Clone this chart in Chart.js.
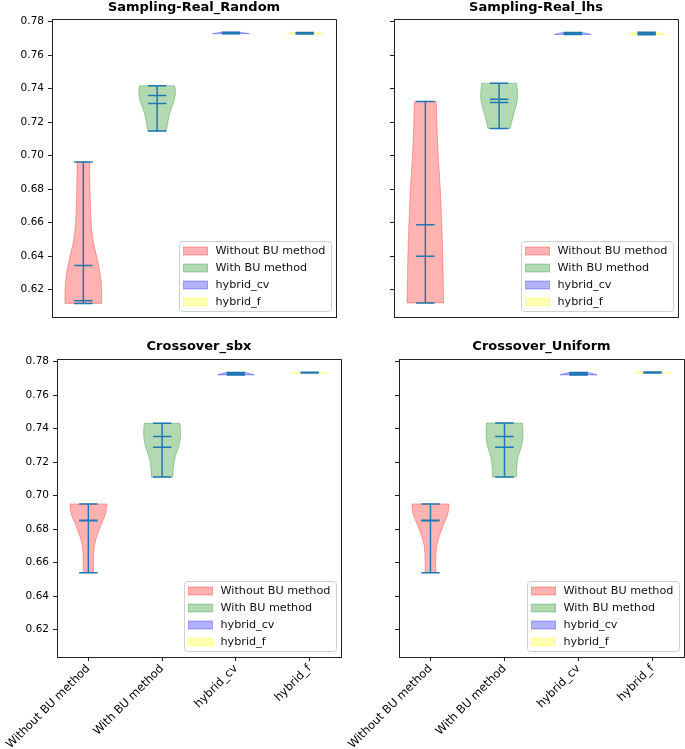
<!DOCTYPE html>
<html><head><meta charset="utf-8">
<script src="https://cdn.jsdelivr.net/npm/chart.js@4.4.0/dist/chart.umd.min.js"></script>
<style>
html,body{margin:0;padding:0;background:#fff;}
body{width:685px;height:749px;position:relative;overflow:hidden;}
canvas{position:absolute;}
</style></head><body>
<canvas id="c0" width="345" height="330" style="left:0px;top:0px"></canvas>
<canvas id="c1" width="340" height="330" style="left:345px;top:0px"></canvas>
<canvas id="c2" width="345" height="419" style="left:0px;top:330px"></canvas>
<canvas id="c3" width="350" height="419" style="left:335px;top:330px"></canvas>
<script>
// ---------- data ----------
const categories = ['Without BU method', 'With BU method', 'hybrid_cv', 'hybrid_f'];
const panelTitles = ['Sampling-Real_Random', 'Sampling-Real_lhs', 'Crossover_sbx', 'Crossover_Uniform'];
const yTicks = [0.62, 0.64, 0.66, 0.68, 0.70, 0.72, 0.74, 0.76, 0.78];
const bodyColors = ['rgba(255,0,0,0.3)', 'rgba(0,128,0,0.3)', 'rgba(0,0,255,0.3)', 'rgba(255,255,0,0.3)'];

// violin outlines: [value, relative half-width]
const randomWithout = [[0.6118,1.0],[0.618,1.0],[0.625,0.97],[0.632,0.88],[0.640,0.72],[0.648,0.55],[0.656,0.45],[0.665,0.40],[0.675,0.37],[0.685,0.35],[0.6962,0.34]];
const randomWith = [[0.7148,0.50],[0.7175,0.55],[0.7210,0.60],[0.7250,0.68],[0.7290,0.80],[0.7330,0.93],[0.7370,1.0],[0.7400,0.98],[0.7417,0.95]];
const randomCv = [[0.7728,1.0],[0.7732,0.8],[0.7737,0.5]];
const randomF = [[0.7727,1.0],[0.7731,0.85],[0.7736,0.6]];
// [min, max, mean, median]
const randomStats = [[0.6118,0.6962,0.6345,0.6134],[0.7148,0.7417,0.7311,0.7359],[0.7728,0.7737,0.7733,0.7734],[0.7727,0.7736,0.7731,0.7732]];

const lhsWithout = [[0.6121,1.0],[0.620,0.98],[0.640,0.95],[0.660,0.89],[0.680,0.81],[0.700,0.70],[0.715,0.64],[0.7324,0.59]];
const lhsWith = [[0.7162,0.60],[0.720,0.68],[0.725,0.80],[0.730,0.93],[0.734,1.0],[0.738,1.0],[0.741,0.97],[0.7433,0.94]];
const lhsCv = [[0.7724,1.0],[0.7730,0.8],[0.7736,0.5]];
const lhsF = [[0.7722,1.0],[0.7730,0.85],[0.7737,0.6]];
const lhsStats = [[0.6121,0.7324,0.6588,0.6399],[0.7162,0.7433,0.7337,0.7317],[0.7724,0.7736,0.7730,0.7731],[0.7722,0.7737,0.7730,0.7731]];

const sbxWithout = [[0.6540,0.27],[0.660,0.28],[0.665,0.29],[0.6695,0.32],[0.6725,0.38],[0.6755,0.45],[0.6795,0.59],[0.6835,0.72],[0.6865,0.85],[0.6895,0.94],[0.6925,0.99],[0.6951,1.0]];
const sbxWith = [[0.7111,0.58],[0.7155,0.60],[0.7215,0.67],[0.7245,0.75],[0.7275,0.85],[0.7315,0.95],[0.7354,1.0],[0.7394,1.0],[0.7432,0.97]];
const sbxCv = [[0.7721,1.0],[0.7728,0.8],[0.7736,0.5]];
const sbxF = [[0.7732,1.0],[0.7734,0.85],[0.7737,0.6]];
const sbxStats = [[0.6540,0.6951,0.6853,0.6850],[0.7111,0.7432,0.7289,0.7353],[0.7721,0.7736,0.7728,0.7729],[0.7732,0.7737,0.7734,0.7735]];

const uniformWithout = [[0.6540,0.29],[0.660,0.29],[0.665,0.30],[0.6695,0.33],[0.6725,0.39],[0.6755,0.47],[0.6795,0.60],[0.6835,0.74],[0.6865,0.86],[0.6895,0.95],[0.6925,0.99],[0.6951,1.0]];
const uniformWith = [[0.7111,0.65],[0.7155,0.66],[0.7215,0.70],[0.7245,0.77],[0.7275,0.87],[0.7315,0.96],[0.7354,1.0],[0.7394,1.0],[0.7434,0.97]];
const uniformCv = [[0.7721,1.0],[0.7728,0.8],[0.7736,0.5]];
const uniformF = [[0.7733,1.0],[0.7735,0.85],[0.7738,0.6]];
const uniformStats = [[0.6540,0.6951,0.6853,0.6850],[0.7111,0.7434,0.7289,0.7353],[0.7721,0.7736,0.7728,0.7729],[0.7733,0.7738,0.7735,0.7736]];

const panelProfiles = [
  [randomWithout, randomWith, randomCv, randomF],
  [lhsWithout, lhsWith, lhsCv, lhsF],
  [sbxWithout, sbxWith, sbxCv, sbxF],
  [uniformWithout, uniformWith, uniformCv, uniformF]
];
const panelStats = [randomStats, lhsStats, sbxStats, uniformStats];

// ---------- drawing ----------
const Y_MIN = 0.6037, Y_MAX = 0.7816;
const X_MIN = 0.575, X_MAX = 4.425;
const HALF = 0.25, CAP = 0.125;
const FONT = 'DejaVu Sans';
const STAT = '#1f77b4';

const violinPlugin = {
  id: 'violins',
  afterDatasetsDraw(chart, args, opts) {
    const ctx = chart.ctx, a = chart.chartArea;
    const x = chart.scales.x, y = chart.scales.y;
    const profiles = panelProfiles[opts.panel], stats = panelStats[opts.panel];
    ctx.save();
    profiles.forEach((prof, i) => {
      const pos = i + 1;
      ctx.beginPath();
      prof.forEach(([v, w], k) => {
        const px = x.getPixelForValue(pos - HALF * w), py = y.getPixelForValue(v);
        if (k === 0) ctx.moveTo(px, py); else ctx.lineTo(px, py);
      });
      for (let k = prof.length - 1; k >= 0; k--) {
        const [v, w] = prof[k];
        ctx.lineTo(x.getPixelForValue(pos + HALF * w), y.getPixelForValue(v));
      }
      ctx.closePath();
      ctx.fillStyle = bodyColors[i];
      ctx.fill();
      ctx.strokeStyle = bodyColors[i];
      ctx.lineWidth = 1;
      ctx.stroke();
    });
    ctx.strokeStyle = STAT;
    ctx.lineWidth = 1.5;
    stats.forEach((s, i) => {
      const pos = i + 1;
      const xl = x.getPixelForValue(pos - CAP), xr = x.getPixelForValue(pos + CAP), xc = x.getPixelForValue(pos);
      ctx.beginPath();
      ctx.moveTo(xc, y.getPixelForValue(s[0]));
      ctx.lineTo(xc, y.getPixelForValue(s[1]));
      s.forEach(v => {
        const py = y.getPixelForValue(v);
        ctx.moveTo(xl, py); ctx.lineTo(xr, py);
      });
      ctx.stroke();
    });
    // top/right spines
    ctx.strokeStyle = '#222';
    ctx.lineWidth = 1;
    ctx.beginPath();
    ctx.moveTo(Math.round(a.left) + 0.5, Math.round(a.top) + 0.5);
    ctx.lineTo(Math.round(a.right) + 0.5, Math.round(a.top) + 0.5);
    ctx.lineTo(Math.round(a.right) + 0.5, Math.round(a.bottom) + 0.5);
    ctx.stroke();
    // legend
    const lw = 152, lh = 70;
    const bx = Math.round(a.right - 5 - lw) + 0.5, by = Math.round(a.bottom - 6 - lh) + 0.5;
    ctx.beginPath();
    ctx.roundRect(bx, by, lw, lh, 3);
    ctx.fillStyle = 'rgba(255,255,255,0.8)';
    ctx.fill();
    ctx.strokeStyle = '#d0d0d0';
    ctx.stroke();
    ctx.font = '11.2px "' + FONT + '"';
    ctx.textBaseline = 'middle';
    ctx.textAlign = 'left';
    categories.forEach((c, i) => {
      const cy = by + 9.5 + 17 * i;
      ctx.fillStyle = bodyColors[i];
      ctx.fillRect(bx + 4, cy - 4, 24, 8);
      ctx.strokeStyle = bodyColors[i];
      ctx.strokeRect(bx + 4, cy - 4, 24, 8);
      ctx.fillStyle = '#111';
      ctx.fillText(c, bx + 36, cy + 0.5);
    });
    ctx.restore();
  }
};

function makeChart(id, panel, cfg) {
  return new Chart(document.getElementById(id), {
    type: 'scatter',
    data: { datasets: [] },
    plugins: [violinPlugin],
    options: {
      responsive: false,
      animation: false,
      events: [],
      layout: { autoPadding: false, padding: { left: 0, right: cfg.padRight, top: 0, bottom: cfg.padBottom } },
      plugins: {
        legend: { display: false },
        tooltip: { enabled: false },
        title: {
          display: true, text: panelTitles[panel], fullSize: false, color: '#000',
          font: { family: FONT, size: 13, weight: 'bold', lineHeight: 1 },
          padding: { top: cfg.titleTop, bottom: cfg.titleBottom }
        },
        violins: { panel: panel }
      },
      scales: {
        x: {
          type: 'linear', position: 'bottom', min: X_MIN, max: X_MAX,
          afterBuildTicks: ax => { ax.ticks = [1, 2, 3, 4].map(v => ({ value: v })); },
          afterFit: ax => { ax.height = cfg.xHeight; ax.paddingLeft = 0; ax.paddingRight = 0; },
          grid: { display: cfg.showX, drawOnChartArea: false, drawTicks: true, tickLength: 4, tickColor: '#222', tickWidth: 1 },
          border: { display: true, color: '#222', width: 1 },
          ticks: {
            display: cfg.showX, autoSkip: false, maxRotation: 45, minRotation: 45, padding: 1,
            font: { family: FONT, size: 11.5 }, color: '#000',
            callback: v => categories[Math.round(v) - 1]
          }
        },
        y: {
          type: 'linear', position: 'left', min: Y_MIN, max: Y_MAX,
          afterBuildTicks: ax => { ax.ticks = yTicks.map(v => ({ value: v })); },
          afterFit: ax => { ax.width = cfg.yWidth; ax.paddingTop = 0; ax.paddingBottom = 0; },
          grid: { display: true, drawOnChartArea: false, drawTicks: true, tickLength: 4, tickColor: '#222', tickWidth: 1 },
          border: { display: true, color: '#222', width: 1 },
          ticks: {
            display: cfg.showY, autoSkip: false, padding: 4,
            font: { family: FONT, size: 10.5 }, color: '#000',
            callback: v => v.toFixed(2)
          }
        }
      }
    }
  });
}

makeChart('c0', 0, { padRight: 9, padBottom: 13, titleTop: 1, titleBottom: 5, xHeight: 0, yWidth: 52, showX: false, showY: true });
makeChart('c1', 1, { padRight: 7, padBottom: 13, titleTop: 1, titleBottom: 5, xHeight: 0, yWidth: 49, showX: false, showY: false });
makeChart('c2', 2, { padRight: 4, padBottom: 0, titleTop: 10, titleBottom: 6, xHeight: 92, yWidth: 57, showX: true, showY: true });
makeChart('c3', 3, { padRight: 1, padBottom: 0, titleTop: 10, titleBottom: 6, xHeight: 92, yWidth: 64, showX: true, showY: false });
</script>
</body></html>
